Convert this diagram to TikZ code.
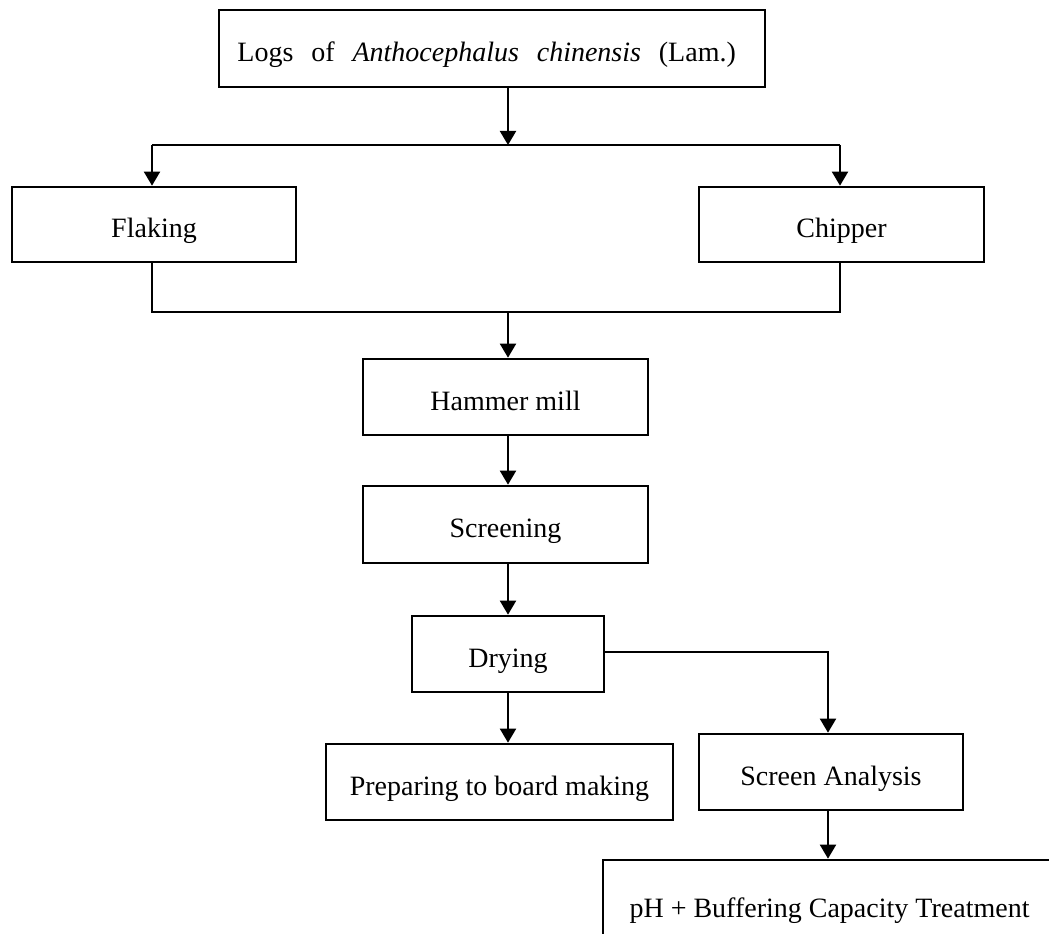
\documentclass[tikz,border=0pt]{standalone}
\usepackage{fontspec}
\setmainfont{Liberation Serif}
\usetikzlibrary{arrows.meta}
\tikzset{
  box/.style={draw=black, line width=2pt, inner sep=0pt, font=\fontsize{21}{25}\selectfont,
    align=center, text height=20pt, text depth=0pt},
  link/.style={draw=black, line width=1.5pt},
  arr/.style={link, -{Triangle[width=12pt,length=10.5pt]}},
}
\begin{document}
\begin{tikzpicture}[x=0.75pt,y=-0.75pt]
\useasboundingbox (0,0) rectangle (1049,934);
\clip (0,0) rectangle (1049,934);
% boxes
\node[box, minimum width=409.5pt, minimum height=57.75pt] (top) at (492,48.5)
  {{\spaceskip=13.4pt Logs of \textit{Anthocephalus chinensis} (Lam.)\kern8pt}};
\node[box, minimum width=213pt, minimum height=56.25pt] (flaking) at (154,224.5) {Flaking};
\node[box, minimum width=213.75pt, minimum height=56.25pt] (chipper) at (841.5,224.5) {Chipper};
\node[box, minimum width=213.75pt, minimum height=57pt] (hammer) at (505.5,397) {Hammer mill};
\node[box, minimum width=213.75pt, minimum height=57.75pt] (screening) at (505.5,524.5) {Screening};
\node[box, minimum width=144pt, minimum height=57pt] (drying) at (508,654) {Drying};
\node[box, minimum width=260.25pt, minimum height=57pt] (prep) at (499.5,782) {Preparing to board making};
\node[box, minimum width=198pt, minimum height=57pt] (sa) at (831,772) {Screen Analysis};
\node[box, minimum width=339.75pt, minimum height=66pt] (ph) at (829.5,904) {pH + Buffering Capacity Treatment};
% junction coordinates
\coordinate (jm) at (508,145);
\coordinate (jl) at (152,145);
\coordinate (jr) at (840,145);
\coordinate (kl) at (152,312);
\coordinate (km) at (508,312);
\coordinate (kr) at (840,312);
\coordinate (sax) at (828,652);
% connectors
\draw[arr] (top.south -| jm) -- (jm);
\draw[link] (jl) -- (jr);
\draw[arr] (jl) -- (jl |- flaking.north);
\draw[arr] (jr) -- (jr |- chipper.north);
\draw[link] (kl |- flaking.south) -- (kl) -- (kr) -- (kr |- chipper.south);
\draw[arr] (km) -- (km |- hammer.north);
\draw[arr] (hammer.south -| km) -- (screening.north -| km);
\draw[arr] (screening.south -| km) -- (drying.north -| km);
\draw[arr] (drying.south -| km) -- (prep.north -| km);
\draw[arr] (drying.east |- sax) -- (sax) -- (sa.north -| sax);
\draw[arr] (sa.south -| sax) -- (ph.north -| sax);
\end{tikzpicture}
\end{document}
